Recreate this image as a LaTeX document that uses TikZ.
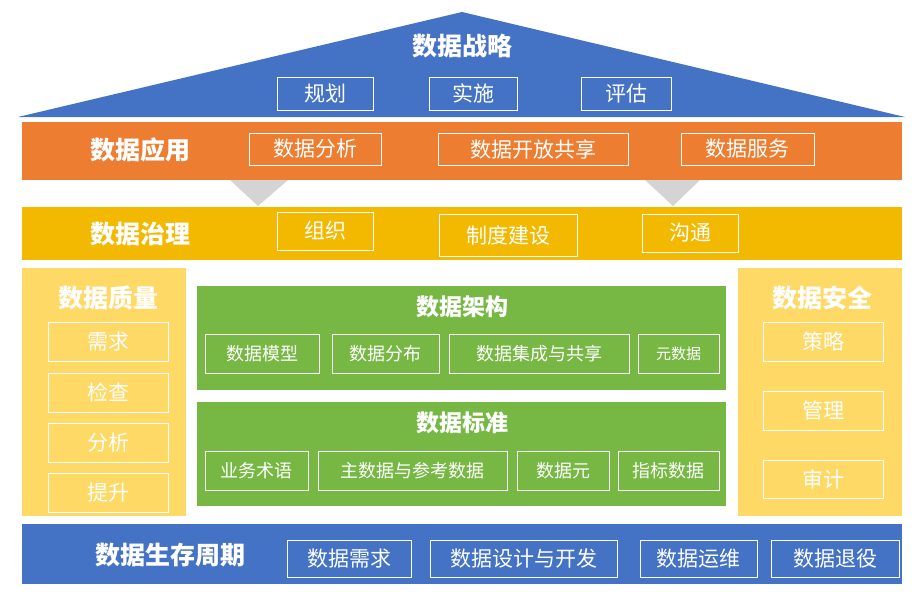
\documentclass[tikz,border=0pt]{standalone}
\usepackage{fontspec}
\setmainfont{Noto Sans CJK SC}
\begin{document}
\begin{tikzpicture}[x=1pt,y=-1pt,
 bx/.style={draw=white,line width=0.8pt,text=white,font=\fontsize{21}{21}\selectfont},
 ttl/.style={text=white,font=\bfseries\fontsize{25}{25}\selectfont}]
\definecolor{cblue}{HTML}{4472C4}\definecolor{corange}{HTML}{ED7D31}
\definecolor{cyel}{HTML}{F2B900}\definecolor{clyel}{HTML}{FFD966}
\definecolor{cgreen}{HTML}{76B843}\definecolor{cgray}{HTML}{D4D4D4}
\useasboundingbox (0,0) rectangle (924,598);
\newcommand\bxx[4]{\draw[bx] (#1) rectangle (#2) node[midway] (#3) {#4};}
% roof
\fill[cblue] (462,12) -- (905,117) -- (18,117) -- cycle;
\node[ttl] (t1) at (462,46) {数据战略};
\bxx{277,77}{373,110}{a1}{规划}\bxx{429,77}{517,110}{a2}{实施}\bxx{581,77}{671,110}{a3}{评估}
% orange
\fill[corange] (22,122) rectangle (902,180);
\node[ttl] (t2) at (140,150) {数据应用};
\bxx{249,133}{381,165}{b1}{数据分析}\bxx{438,133}{628,165}{b2}{数据开放共享}\bxx{681,133}{814,165}{b3}{数据服务}
\fill[cgray] (230,180) -- (288,180) -- (258,206) -- cycle;
\fill[cgray] (645,180) -- (700,180) -- (673,206) -- cycle;
% yellow
\fill[cyel] (22,207) rectangle (902,260);
\node[ttl] (t3) at (140,234) {数据治理};
\bxx{277,212}{373,250}{c1}{组织}\bxx{439,214}{577,256}{c2}{制度建设}\bxx{642,214}{738,252}{c3}{沟通}
% left
\fill[clyel] (22,268) rectangle (186,516);
\node[ttl] (t4) at (108,298) {数据质量};
\bxx{48,322}{168,361}{d1}{需求}\bxx{48,373}{168,412}{d2}{检查}\bxx{48,423}{168,462}{d3}{分析}\bxx{48,473}{168,512}{d4}{提升}
% right
\fill[clyel] (738,268) rectangle (902,516);
\node[ttl] (t5) at (822,298) {数据安全};
\bxx{763,322}{883,361}{e1}{策略}\bxx{763,391}{883,430}{e2}{管理}\bxx{763,460}{883,498}{e3}{审计}
% green
\fill[cgreen] (197,286) rectangle (726,390);
\node[ttl,font=\bfseries\fontsize{23}{23}\selectfont] (t6) at (462,307) {数据架构};
\begin{scope}[bx/.append style={font=\fontsize{18}{18}\selectfont}]
\bxx{205,334}{319,373}{f1}{数据模型}\bxx{332,334}{439,373}{f2}{数据分布}\bxx{449,334}{629,373}{f3}{数据集成与共享}
\draw[bx,font=\fontsize{15}{15}\selectfont] (638,334) rectangle (719,373) node[midway] (f4) {元数据};
\end{scope}
\fill[cgreen] (197,402) rectangle (726,506);
\node[ttl,font=\bfseries\fontsize{23}{23}\selectfont] (t7) at (462,423) {数据标准};
\begin{scope}[bx/.append style={font=\fontsize{18}{18}\selectfont}]
\bxx{205,451}{308,490}{g1}{业务术语}\bxx{318,451}{507,490}{g2}{主数据与参考数据}\bxx{517,451}{609,490}{g3}{数据元}\bxx{618,451}{719,490}{g4}{指标数据}
\end{scope}
% bottom
\fill[cblue] (22,524) rectangle (902,584);
\node[ttl] (t8) at (170,555) {数据生存周期};
\bxx{287,540}{411,577}{h1}{数据需求}\bxx{430,540}{617,577}{h2}{数据设计与开发}\bxx{640,540}{757,577}{h3}{数据运维}\bxx{771,540}{899,577}{h4}{数据退役}
\end{tikzpicture}
\end{document}
